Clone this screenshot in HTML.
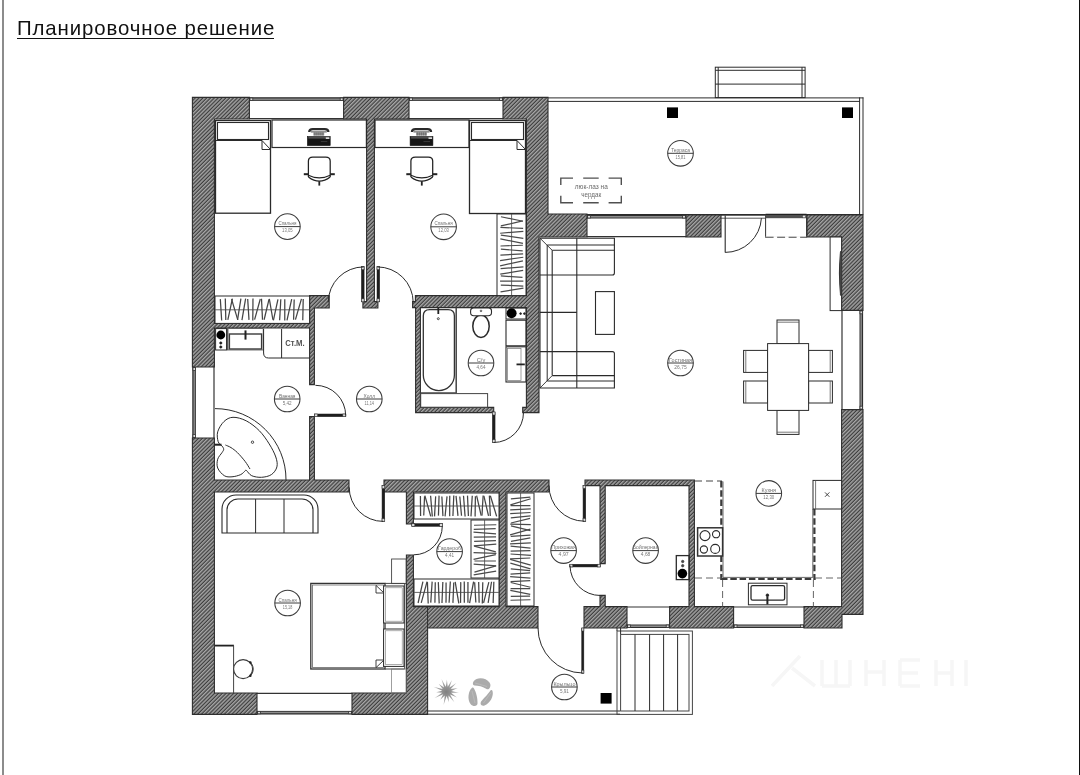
<!DOCTYPE html>
<html><head><meta charset="utf-8"><title>Планировочное решение</title>
<style>html,body{margin:0;padding:0;background:#fff}svg,#t{filter:grayscale(1)}body{width:1080px;height:775px;overflow:hidden;position:relative;font-family:"Liberation Sans",sans-serif}#t{position:absolute;left:17px;top:16px;font-size:20.4px;line-height:24px;color:#111;white-space:nowrap;letter-spacing:0.9px;opacity:0.999}#u{position:absolute;left:17px;top:37.6px;width:257px;height:1.7px;background:#111}svg{position:absolute;left:0;top:0}text{font-family:"Liberation Sans",sans-serif;opacity:0.999}</style></head><body>
<svg width="1080" height="775" viewBox="0 0 1080 775">
<defs><filter id="bl" x="-20%" y="-20%" width="140%" height="140%"><feGaussianBlur stdDeviation="0.55"/></filter><radialGradient id="sg"><stop offset="0" stop-color="#808080"/><stop offset="0.5" stop-color="#9a9a9a"/><stop offset="1" stop-color="#c0c0c0"/></radialGradient><pattern id="h" width="2.7" height="2.7" patternUnits="userSpaceOnUse" patternTransform="rotate(45)"><rect width="2.7" height="2.7" fill="#3e3e3e"/><rect width="1.45" height="2.7" fill="#a6a6a6"/></pattern></defs>
<rect width="1080" height="775" fill="#fff"/>
<rect x="2" y="0" width="2" height="775" fill="#8c8c8c"/>
<rect x="1079" y="0" width="1" height="775" fill="#111"/>
<line x1="548" y1="97.9" x2="863.4" y2="97.9" stroke="#2b2b2b" stroke-width="1" />
<line x1="548" y1="101.4" x2="860" y2="101.4" stroke="#2b2b2b" stroke-width="1" />
<line x1="859.6" y1="97.4" x2="859.6" y2="215" stroke="#2b2b2b" stroke-width="1" />
<line x1="863" y1="97.4" x2="863" y2="215" stroke="#2b2b2b" stroke-width="1" />
<line x1="548" y1="214.5" x2="863" y2="214.5" stroke="#2b2b2b" stroke-width="1" />
<rect x="715.3" y="67.2" width="89.8" height="30.4" fill="none" stroke="#2b2b2b" stroke-width="1" />
<line x1="718.2" y1="67.2" x2="718.2" y2="97.6" stroke="#2b2b2b" stroke-width="1" />
<line x1="802" y1="67.2" x2="802" y2="97.6" stroke="#2b2b2b" stroke-width="1" />
<line x1="715.3" y1="70.3" x2="805.1" y2="70.3" stroke="#2b2b2b" stroke-width="1" />
<line x1="715.3" y1="84.1" x2="805.1" y2="84.1" stroke="#2b2b2b" stroke-width="1" />
<rect x="667" y="107.4" width="11" height="10.6" fill="#000" stroke="none" stroke-width="0" />
<rect x="842" y="107.4" width="11" height="10.6" fill="#000" stroke="none" stroke-width="0" />
<path d="M560.8 185.1 V178.1 H573 M583.2 178.1 H598.7 M608.6 178.1 H621.3 V185.1 M621.3 195.7 V202.7 H608.6 M598.7 202.7 H583.2 M573 202.7 H560.8 V195.7" fill="none" stroke="#505050" stroke-width="1.4" />
<text x="591.3" y="189" font-size="7.6" text-anchor="middle" fill="#6a6a6a" textLength="33" lengthAdjust="spacingAndGlyphs">люк-лаз на</text>
<text x="591.2" y="197.1" font-size="7.6" text-anchor="middle" fill="#6a6a6a" textLength="20" lengthAdjust="spacingAndGlyphs">чердак</text>
<rect x="249.4" y="97.4" width="94.2" height="21.6" fill="#fff" stroke="none" stroke-width="0" />
<rect x="249.4" y="97.7" width="94.2" height="2.8" fill="#8d8d8d" stroke="none" stroke-width="0" />
<line x1="249.4" y1="97.9" x2="343.6" y2="97.9" stroke="#2e2e2e" stroke-width="1.2" />
<line x1="249.4" y1="100.4" x2="343.6" y2="100.4" stroke="#3a3a3a" stroke-width="1" />
<rect x="250" y="98" width="2.8" height="2.4" fill="#ddd" stroke="#333" stroke-width="0.8" />
<rect x="340.2" y="98" width="2.8" height="2.4" fill="#ddd" stroke="#333" stroke-width="0.8" />
<line x1="249.4" y1="118.6" x2="343.6" y2="118.6" stroke="#333" stroke-width="1.2" />
<rect x="409" y="97.4" width="94" height="21.6" fill="#fff" stroke="none" stroke-width="0" />
<rect x="409" y="97.7" width="94" height="2.8" fill="#8d8d8d" stroke="none" stroke-width="0" />
<line x1="409" y1="97.9" x2="503" y2="97.9" stroke="#2e2e2e" stroke-width="1.2" />
<line x1="409" y1="100.4" x2="503" y2="100.4" stroke="#3a3a3a" stroke-width="1" />
<rect x="409.6" y="98" width="2.8" height="2.4" fill="#ddd" stroke="#333" stroke-width="0.8" />
<rect x="499.6" y="98" width="2.8" height="2.4" fill="#ddd" stroke="#333" stroke-width="0.8" />
<line x1="409" y1="118.6" x2="503" y2="118.6" stroke="#333" stroke-width="1.2" />
<rect x="587" y="215" width="99" height="22" fill="#fff" stroke="none" stroke-width="0" />
<rect x="587" y="215.3" width="99" height="2.8" fill="#8d8d8d" stroke="none" stroke-width="0" />
<line x1="587" y1="215.5" x2="686" y2="215.5" stroke="#2e2e2e" stroke-width="1.2" />
<line x1="587" y1="218" x2="686" y2="218" stroke="#3a3a3a" stroke-width="1" />
<rect x="587.6" y="215.6" width="2.8" height="2.4" fill="#ddd" stroke="#333" stroke-width="0.8" />
<rect x="682.6" y="215.6" width="2.8" height="2.4" fill="#ddd" stroke="#333" stroke-width="0.8" />
<line x1="587" y1="236.6" x2="686" y2="236.6" stroke="#333" stroke-width="1.2" />
<rect x="257" y="693" width="95" height="21.4" fill="#fff" stroke="none" stroke-width="0" />
<rect x="257" y="711.3" width="95" height="2.8" fill="#8d8d8d" stroke="none" stroke-width="0" />
<line x1="257" y1="713.9" x2="352" y2="713.9" stroke="#2e2e2e" stroke-width="1.2" />
<line x1="257" y1="711.4" x2="352" y2="711.4" stroke="#3a3a3a" stroke-width="1" />
<rect x="257.6" y="711.4" width="2.8" height="2.4" fill="#ddd" stroke="#333" stroke-width="0.8" />
<rect x="348.6" y="711.4" width="2.8" height="2.4" fill="#ddd" stroke="#333" stroke-width="0.8" />
<line x1="257" y1="693.4" x2="352" y2="693.4" stroke="#333" stroke-width="1.2" />
<rect x="627" y="606.6" width="42.6" height="21.4" fill="#fff" stroke="none" stroke-width="0" />
<rect x="627" y="624.9" width="42.6" height="2.8" fill="#8d8d8d" stroke="none" stroke-width="0" />
<line x1="627" y1="627.5" x2="669.6" y2="627.5" stroke="#2e2e2e" stroke-width="1.2" />
<line x1="627" y1="625" x2="669.6" y2="625" stroke="#3a3a3a" stroke-width="1" />
<rect x="627.6" y="625" width="2.8" height="2.4" fill="#ddd" stroke="#333" stroke-width="0.8" />
<rect x="666.2" y="625" width="2.8" height="2.4" fill="#ddd" stroke="#333" stroke-width="0.8" />
<line x1="627" y1="607" x2="669.6" y2="607" stroke="#333" stroke-width="1.2" />
<rect x="733.6" y="606.6" width="70.4" height="21.4" fill="#fff" stroke="none" stroke-width="0" />
<rect x="733.6" y="624.9" width="70.4" height="2.8" fill="#8d8d8d" stroke="none" stroke-width="0" />
<line x1="733.6" y1="627.5" x2="804" y2="627.5" stroke="#2e2e2e" stroke-width="1.2" />
<line x1="733.6" y1="625" x2="804" y2="625" stroke="#3a3a3a" stroke-width="1" />
<rect x="734.2" y="625" width="2.8" height="2.4" fill="#ddd" stroke="#333" stroke-width="0.8" />
<rect x="800.6" y="625" width="2.8" height="2.4" fill="#ddd" stroke="#333" stroke-width="0.8" />
<line x1="733.6" y1="607" x2="804" y2="607" stroke="#333" stroke-width="1.2" />
<rect x="192.7" y="367" width="2.8" height="71" fill="#8d8d8d" stroke="none" stroke-width="0" />
<line x1="192.9" y1="367" x2="192.9" y2="438" stroke="#2e2e2e" stroke-width="1.2" />
<line x1="195.4" y1="367" x2="195.4" y2="438" stroke="#3a3a3a" stroke-width="1" />
<rect x="193" y="367.6" width="2.4" height="2.8" fill="#ddd" stroke="#333" stroke-width="0.8" />
<rect x="193" y="434.6" width="2.4" height="2.8" fill="#ddd" stroke="#333" stroke-width="0.8" />
<line x1="214" y1="367" x2="214" y2="438" stroke="#333" stroke-width="1.2" />
<rect x="859.9" y="310.4" width="2.8" height="99.2" fill="#8d8d8d" stroke="none" stroke-width="0" />
<line x1="862.5" y1="310.4" x2="862.5" y2="409.6" stroke="#2e2e2e" stroke-width="1.2" />
<line x1="860" y1="310.4" x2="860" y2="409.6" stroke="#3a3a3a" stroke-width="1" />
<rect x="860" y="311" width="2.4" height="2.8" fill="#ddd" stroke="#333" stroke-width="0.8" />
<rect x="860" y="406.2" width="2.4" height="2.8" fill="#ddd" stroke="#333" stroke-width="0.8" />
<line x1="842" y1="310.4" x2="842" y2="409.6" stroke="#333" stroke-width="1.2" />
<line x1="721" y1="215.4" x2="765.6" y2="215.4" stroke="#444" stroke-width="0.9" />
<line x1="721" y1="218.2" x2="765.6" y2="218.2" stroke="#444" stroke-width="0.9" />
<rect x="765.6" y="214.6" width="41" height="22.8" fill="#fff" stroke="#333" stroke-width="1" />
<rect x="765.6" y="214.2" width="41" height="4" fill="#505050" stroke="none" stroke-width="0" />
<line x1="765.6" y1="214.4" x2="806.6" y2="214.4" stroke="#222" stroke-width="1.2" />
<rect x="802.4" y="215.2" width="3.2" height="2.6" fill="#e4e4e4" stroke="#333" stroke-width="0.5" />
<line x1="765.6" y1="237.2" x2="806.6" y2="237.2" stroke="#fff" stroke-width="1.6" />
<line x1="765.6" y1="237.2" x2="806.6" y2="237.2" stroke="#4a4a4a" stroke-width="1.1" stroke-dasharray="8 3.5"/>
<path d="M214.4 328 L309.6 328 L309.6 384.6 L314.4 384.6 L314.4 328 L314.4 323.4 L314.4 308 L329.2 308 L329.2 295.6 L309.6 295.6 L309.6 308 L309.6 323.4 L214.4 323.4 L214.4 119 L249.4 119 L249.4 97.4 L214.4 97.4 L192.4 97.4 L192.4 119 L192.4 367 L214.4 367 Z M362.9 301.6 L362.9 308 L377.9 308 L377.9 301.6 L374.4 301.6 L374.4 119 L409 119 L409 97.4 L343.6 97.4 L343.6 119 L366.6 119 L366.6 301.6 Z M412.6 301.6 L412.6 307.6 L415.4 307.6 L415.6 307.6 L415.6 407.4 L415.6 412.6 L420.4 412.6 L493.7 412.6 L493.7 407.4 L420.4 407.4 L420.4 307.6 L526.4 307.6 L526.4 407.4 L522.7 407.4 L522.7 412.6 L526.4 412.6 L539 412.6 L539 407.4 L539 237 L548 237 L587 237 L587 214 L548 214 L548 119 L548 97.4 L526.4 97.4 L503 97.4 L503 119 L526.4 119 L526.4 214 L526.4 237 L526.4 295.6 L415.4 295.6 L415.4 301.6 Z M214.4 438 L192.4 438 L192.4 693 L192.4 714.4 L214.4 714.4 L257 714.4 L257 693 L214.4 693 L214.4 492 L349 492 L349 480 L314.4 480 L314.4 416.6 L309.6 416.6 L309.6 480 L214.4 480 Z M384 492 L406.4 492 L406.4 524 L413.4 524 L413.4 492 L499 492 L499 606.6 L427.6 606.6 L413.4 606.6 L413.4 555 L406.4 555 L406.4 606.6 L406.4 628 L406.4 693 L352 693 L352 714.4 L406.4 714.4 L427.6 714.4 L427.6 693 L427.6 628 L538 628 L538 606.6 L506 606.6 L506 492 L549 492 L549 480 L384 480 Z M807 215 L807 237 L841.6 237 L841.6 310.4 L863 310.4 L863 237 L863 215 L841.6 215 Z M686 215 L686 237 L721 237 L721 215 Z M605.2 563.6 L605.2 485.6 L689 485.6 L689 606.6 L669.6 606.6 L669.6 628 L733.6 628 L733.6 606.6 L694.4 606.6 L694.4 485.6 L694.4 480 L689 480 L585 480 L585 485.6 L600 485.6 L600 563.6 Z M841.6 409.6 L841.6 606.6 L804 606.6 L804 628 L842 628 L842 614.4 L863 614.4 L863 409.6 Z M627 628 L627 606.6 L605.2 606.6 L605.2 595.4 L600 595.4 L600 606.6 L584 606.6 L584 628 Z " fill="url(#h)" stroke="#2e2e2e" stroke-width="1.1" fill-rule="evenodd" stroke-linejoin="miter"/>
<rect x="215.5" y="120.5" width="55" height="92.7" fill="none" stroke="#2a2a2a" stroke-width="1.3" />
<rect x="217.5" y="122.5" width="51" height="17" fill="none" stroke="#2a2a2a" stroke-width="1.1" />
<line x1="215.6" y1="140.5" x2="262" y2="140.5" stroke="#2a2a2a" stroke-width="1.1" />
<path d="M262 140.5 L262 149.5 L270.5 149.5 Z" fill="#fff" stroke="#2b2b2b" stroke-width="1" />
<rect x="272" y="120" width="94.4" height="27.5" fill="none" stroke="#2a2a2a" stroke-width="1.2" />
<path d="M309.2 132 Q309.2 129.1 312.8 129.1 L324.8 129.1 Q328.4 129.1 328.4 132" fill="none" stroke="#2a2a2a" stroke-width="2.2" />
<line x1="310.8" y1="131.9" x2="326.8" y2="131.9" stroke="#333" stroke-width="0.9" />
<rect x="313.4" y="132.2" width="10.8" height="3.4" fill="#8c8c8c" stroke="none" stroke-width="0" />
<line x1="314.8" y1="132.4" x2="314.8" y2="135.4" stroke="#5a5a5a" stroke-width="0.5" />
<line x1="316.8" y1="132.4" x2="316.8" y2="135.4" stroke="#5a5a5a" stroke-width="0.5" />
<line x1="318.8" y1="132.4" x2="318.8" y2="135.4" stroke="#5a5a5a" stroke-width="0.5" />
<line x1="320.8" y1="132.4" x2="320.8" y2="135.4" stroke="#5a5a5a" stroke-width="0.5" />
<line x1="322.8" y1="132.4" x2="322.8" y2="135.4" stroke="#5a5a5a" stroke-width="0.5" />
<rect x="307.4" y="136.6" width="22.8" height="9" fill="#161616" stroke="#111" stroke-width="0.6" />
<line x1="308.4" y1="137.9" x2="329.2" y2="137.9" stroke="#9a9a9a" stroke-width="0.7" />
<rect x="325.8" y="137.3" width="3.6" height="1.7" fill="#d8d8d8" stroke="none" stroke-width="0" />
<line x1="320.8" y1="141.6" x2="327.3" y2="141.6" stroke="#555" stroke-width="0.6" />
<path d="M308.4 177 L308.4 161 Q308.4 157 312.8 157 L325.8 157 Q330.2 157 330.2 161 L330.2 177" fill="none" stroke="#222" stroke-width="1.25" />
<path d="M308.4 175.2 Q319.3 180.6 330.2 175.2" fill="none" stroke="#222" stroke-width="1.1" />
<path d="M308.4 177 Q319.3 185.4 330.2 177" fill="none" stroke="#222" stroke-width="1.25" />
<line x1="303.8" y1="174.2" x2="308.4" y2="174.2" stroke="#222" stroke-width="2" />
<line x1="330.2" y1="174.2" x2="334.8" y2="174.2" stroke="#222" stroke-width="2" />
<line x1="319.3" y1="181.2" x2="319.3" y2="185.6" stroke="#222" stroke-width="1.8" />
<circle cx="287.4" cy="226.6" r="12.8" fill="#fff" stroke="#3c3c3c" stroke-width="1.05"/>
<line x1="274.6" y1="226.6" x2="300.2" y2="226.6" stroke="#3c3c3c" stroke-width="1" />
<text x="287.4" y="225.1" font-size="5.8" text-anchor="middle" fill="#6e6e6e" textLength="18" lengthAdjust="spacingAndGlyphs">Спальня</text>
<text x="287.4" y="232.2" font-size="5.4" text-anchor="middle" fill="#777" textLength="10.6" lengthAdjust="spacingAndGlyphs">13,05</text>
<rect x="215" y="296" width="94.6" height="27.4" fill="#fff" stroke="#2b2b2b" stroke-width="1" />
<line x1="215" y1="309.8" x2="309.6" y2="309.8" stroke="#555" stroke-width="0.9" />
<line x1="220.3" y1="299.15" x2="221.7" y2="320.43" stroke="#444" stroke-width="1.25" />
<line x1="225.29" y1="298.56" x2="225.82" y2="319.99" stroke="#444" stroke-width="1.25" />
<line x1="232.38" y1="298.74" x2="227.84" y2="319.95" stroke="#444" stroke-width="1.25" />
<line x1="231.55" y1="299.13" x2="237.78" y2="319.92" stroke="#444" stroke-width="1.25" />
<line x1="240.9" y1="298.72" x2="237.54" y2="319.94" stroke="#444" stroke-width="1.25" />
<line x1="245.61" y1="298.62" x2="241.95" y2="320.19" stroke="#444" stroke-width="1.25" />
<line x1="247.69" y1="299.08" x2="248.97" y2="319.86" stroke="#444" stroke-width="1.25" />
<line x1="252.98" y1="298.56" x2="252.79" y2="320.44" stroke="#444" stroke-width="1.25" />
<line x1="260.29" y1="298.97" x2="254.6" y2="319.58" stroke="#444" stroke-width="1.25" />
<line x1="261.5" y1="298.68" x2="262.5" y2="319.72" stroke="#444" stroke-width="1.25" />
<line x1="269" y1="299.38" x2="264.12" y2="319.77" stroke="#444" stroke-width="1.25" />
<line x1="269.32" y1="298.92" x2="272.9" y2="319.74" stroke="#444" stroke-width="1.25" />
<line x1="277.94" y1="299.46" x2="273.39" y2="320.42" stroke="#444" stroke-width="1.25" />
<line x1="280.8" y1="299.32" x2="279.64" y2="320.16" stroke="#444" stroke-width="1.25" />
<line x1="284.77" y1="299.3" x2="284.78" y2="320.43" stroke="#444" stroke-width="1.25" />
<line x1="291.69" y1="299.16" x2="286.97" y2="320.44" stroke="#444" stroke-width="1.25" />
<line x1="294.18" y1="299.49" x2="293.59" y2="319.68" stroke="#444" stroke-width="1.25" />
<line x1="301.46" y1="298.85" x2="295.43" y2="319.56" stroke="#444" stroke-width="1.25" />
<line x1="303.22" y1="298.99" x2="302.78" y2="320.28" stroke="#444" stroke-width="1.25" />
<rect x="469.5" y="120.5" width="56" height="93" fill="none" stroke="#2a2a2a" stroke-width="1.3" />
<rect x="471.5" y="122.5" width="52" height="17" fill="none" stroke="#2a2a2a" stroke-width="1.1" />
<line x1="469.6" y1="140.5" x2="517" y2="140.5" stroke="#2a2a2a" stroke-width="1.1" />
<path d="M517 140.5 L517 149.5 L525.5 149.5 Z" fill="#fff" stroke="#2b2b2b" stroke-width="1" />
<rect x="375" y="120" width="94" height="27.5" fill="none" stroke="#2a2a2a" stroke-width="1.2" />
<path d="M411.9 132 Q411.9 129.1 415.5 129.1 L427.5 129.1 Q431.1 129.1 431.1 132" fill="none" stroke="#2a2a2a" stroke-width="2.2" />
<line x1="413.5" y1="131.9" x2="429.5" y2="131.9" stroke="#333" stroke-width="0.9" />
<rect x="416.1" y="132.2" width="10.8" height="3.4" fill="#8c8c8c" stroke="none" stroke-width="0" />
<line x1="417.5" y1="132.4" x2="417.5" y2="135.4" stroke="#5a5a5a" stroke-width="0.5" />
<line x1="419.5" y1="132.4" x2="419.5" y2="135.4" stroke="#5a5a5a" stroke-width="0.5" />
<line x1="421.5" y1="132.4" x2="421.5" y2="135.4" stroke="#5a5a5a" stroke-width="0.5" />
<line x1="423.5" y1="132.4" x2="423.5" y2="135.4" stroke="#5a5a5a" stroke-width="0.5" />
<line x1="425.5" y1="132.4" x2="425.5" y2="135.4" stroke="#5a5a5a" stroke-width="0.5" />
<rect x="410.1" y="136.6" width="22.8" height="9" fill="#161616" stroke="#111" stroke-width="0.6" />
<line x1="411.1" y1="137.9" x2="431.9" y2="137.9" stroke="#9a9a9a" stroke-width="0.7" />
<rect x="428.5" y="137.3" width="3.6" height="1.7" fill="#d8d8d8" stroke="none" stroke-width="0" />
<line x1="423.5" y1="141.6" x2="430" y2="141.6" stroke="#555" stroke-width="0.6" />
<path d="M410.9 177 L410.9 161 Q410.9 157 415.3 157 L428.3 157 Q432.7 157 432.7 161 L432.7 177" fill="none" stroke="#222" stroke-width="1.25" />
<path d="M410.9 175.2 Q421.8 180.6 432.7 175.2" fill="none" stroke="#222" stroke-width="1.1" />
<path d="M410.9 177 Q421.8 185.4 432.7 177" fill="none" stroke="#222" stroke-width="1.25" />
<line x1="406.3" y1="174.2" x2="410.9" y2="174.2" stroke="#222" stroke-width="2" />
<line x1="432.7" y1="174.2" x2="437.3" y2="174.2" stroke="#222" stroke-width="2" />
<line x1="421.8" y1="181.2" x2="421.8" y2="185.6" stroke="#222" stroke-width="1.8" />
<circle cx="443.6" cy="226.8" r="12.8" fill="#fff" stroke="#3c3c3c" stroke-width="1.05"/>
<line x1="430.8" y1="226.8" x2="456.4" y2="226.8" stroke="#3c3c3c" stroke-width="1" />
<text x="443.6" y="225.3" font-size="5.8" text-anchor="middle" fill="#6e6e6e" textLength="18" lengthAdjust="spacingAndGlyphs">Спальня</text>
<text x="443.6" y="232.4" font-size="5.4" text-anchor="middle" fill="#777" textLength="10.6" lengthAdjust="spacingAndGlyphs">12,03</text>
<rect x="497" y="214" width="29" height="81.6" fill="#fff" stroke="#2b2b2b" stroke-width="1" />
<line x1="511.6" y1="214" x2="511.6" y2="295.6" stroke="#444" stroke-width="0.8" />
<line x1="500.92" y1="216.76" x2="523" y2="221.24" stroke="#4a4a4a" stroke-width="1.2" />
<line x1="500.88" y1="225.92" x2="522.68" y2="220.96" stroke="#4a4a4a" stroke-width="1.2" />
<line x1="500.42" y1="227.43" x2="523.14" y2="228.32" stroke="#4a4a4a" stroke-width="1.2" />
<line x1="500.15" y1="233.23" x2="523.32" y2="231.4" stroke="#4a4a4a" stroke-width="1.2" />
<line x1="500.83" y1="235.13" x2="523.32" y2="238.37" stroke="#4a4a4a" stroke-width="1.2" />
<line x1="500.37" y1="238.92" x2="522.93" y2="243.46" stroke="#4a4a4a" stroke-width="1.2" />
<line x1="500.52" y1="246.01" x2="522.88" y2="245.24" stroke="#4a4a4a" stroke-width="1.2" />
<line x1="500.9" y1="249.17" x2="522.72" y2="250.95" stroke="#4a4a4a" stroke-width="1.2" />
<line x1="500.39" y1="255.1" x2="523.1" y2="253.9" stroke="#4a4a4a" stroke-width="1.2" />
<line x1="500.07" y1="260.64" x2="523.29" y2="257.24" stroke="#4a4a4a" stroke-width="1.2" />
<line x1="500.1" y1="265.94" x2="522.93" y2="260.81" stroke="#4a4a4a" stroke-width="1.2" />
<line x1="500.61" y1="268.71" x2="523.43" y2="266.91" stroke="#4a4a4a" stroke-width="1.2" />
<line x1="500.25" y1="274.09" x2="523.15" y2="270.41" stroke="#4a4a4a" stroke-width="1.2" />
<line x1="500.85" y1="275.93" x2="522.51" y2="277.44" stroke="#4a4a4a" stroke-width="1.2" />
<line x1="500.09" y1="281.09" x2="523.4" y2="281.16" stroke="#4a4a4a" stroke-width="1.2" />
<line x1="500.83" y1="285.09" x2="523.34" y2="286.03" stroke="#4a4a4a" stroke-width="1.2" />
<line x1="500.54" y1="291.83" x2="523.47" y2="288.17" stroke="#4a4a4a" stroke-width="1.2" />
<rect x="361.4" y="266.7" width="2.7" height="35.1" fill="#1e1e1e" stroke="#1e1e1e" stroke-width="0.5" />
<rect x="361.4" y="266.7" width="2.7" height="3" fill="#d9d9d9" stroke="#333" stroke-width="0.6" />
<rect x="361.4" y="298.8" width="2.7" height="3" fill="#d9d9d9" stroke="#333" stroke-width="0.6" />
<rect x="377" y="266.7" width="2.7" height="35.1" fill="#1e1e1e" stroke="#1e1e1e" stroke-width="0.5" />
<rect x="377" y="266.7" width="2.7" height="3" fill="#d9d9d9" stroke="#333" stroke-width="0.6" />
<rect x="377" y="298.8" width="2.7" height="3" fill="#d9d9d9" stroke="#333" stroke-width="0.6" />
<path d="M363.8 266.9 A35.6 35.6 0 0 0 328.2 302.3" fill="none" stroke="#2b2b2b" stroke-width="1" />
<path d="M377.3 266.9 A35.9 35.6 0 0 1 413.2 302.3" fill="none" stroke="#2b2b2b" stroke-width="1" />
<rect x="215.6" y="328.6" width="11.4" height="21.4" fill="none" stroke="#2b2b2b" stroke-width="1" />
<line x1="226.8" y1="328.6" x2="226.8" y2="350" stroke="#333" stroke-width="1.6" />
<circle cx="220.8" cy="335" r="4.4" fill="#000" stroke="none" stroke-width="0"/>
<circle cx="220.8" cy="343" r="1.1" fill="#111" stroke="#111" stroke-width="0.8"/>
<circle cx="220.8" cy="347" r="1.1" fill="#111" stroke="#111" stroke-width="0.8"/>
<rect x="228" y="328.6" width="35.2" height="21.4" fill="none" stroke="#555" stroke-width="0.8" />
<rect x="229.4" y="334" width="32.2" height="15" fill="none" stroke="#3a3a3a" stroke-width="1.4" />
<line x1="245.5" y1="330.4" x2="245.5" y2="339.6" stroke="#222" stroke-width="2" />
<path d="M263.6 329 L263.6 353 Q263.6 358 268.6 358 L309.6 358" fill="none" stroke="#2b2b2b" stroke-width="1" />
<line x1="281.6" y1="329" x2="281.6" y2="358" stroke="#2b2b2b" stroke-width="1" />
<text x="295" y="345.9" font-size="8.3" font-weight="bold" text-anchor="middle" fill="#505050" textLength="19.4" lengthAdjust="spacingAndGlyphs">Ст.М.</text>
<circle cx="287.2" cy="399" r="12.8" fill="#fff" stroke="#3c3c3c" stroke-width="1.05"/>
<line x1="274.4" y1="399" x2="300" y2="399" stroke="#3c3c3c" stroke-width="1" />
<text x="287.2" y="397.5" font-size="5.8" text-anchor="middle" fill="#6e6e6e" textLength="16.5" lengthAdjust="spacingAndGlyphs">Ванная</text>
<text x="287.2" y="404.6" font-size="5.4" text-anchor="middle" fill="#777" textLength="9" lengthAdjust="spacingAndGlyphs">5,42</text>
<circle cx="369.3" cy="399" r="12.8" fill="#fff" stroke="#3c3c3c" stroke-width="1.05"/>
<line x1="356.5" y1="399" x2="382.1" y2="399" stroke="#3c3c3c" stroke-width="1" />
<text x="369.3" y="397.5" font-size="5.8" text-anchor="middle" fill="#6e6e6e" textLength="11.5" lengthAdjust="spacingAndGlyphs">Холл</text>
<text x="369.3" y="404.6" font-size="5.4" text-anchor="middle" fill="#777" textLength="9.5" lengthAdjust="spacingAndGlyphs">11,14</text>
<rect x="314.6" y="414" width="31.2" height="2.7" fill="#1e1e1e" stroke="#1e1e1e" stroke-width="0.5" />
<rect x="314.6" y="414" width="3" height="2.7" fill="#d9d9d9" stroke="#333" stroke-width="0.6" />
<rect x="342.8" y="414" width="3" height="2.7" fill="#d9d9d9" stroke="#333" stroke-width="0.6" />
<path d="M345.7 415.6 A30.3 30.3 0 0 0 315.4 385.3" fill="none" stroke="#2b2b2b" stroke-width="1" />
<path d="M215 408.6 A71 71 0 0 1 286 480" fill="none" stroke="#2b2b2b" stroke-width="1" />
<path d="M233 417.3 C229.3 417.42 226.55 419.08 224 421.5 C221.45 423.92 218.67 428.43 217.7 431.8 C216.73 435.17 217.48 439.33 218.2 441.7 C218.92 444.07 221.08 444.73 222 446 C222.92 447.27 223.7 448.2 223.7 449.3 C223.7 450.4 223 450.95 222 452.6 C221 454.25 218.42 456.63 217.7 459.2 C216.98 461.77 216.6 465.25 217.7 468 C218.8 470.75 221.92 474.23 224.3 475.7 C226.68 477.17 229.27 476.98 232 476.8 C234.73 476.62 238.5 475.6 240.7 474.6 C242.9 473.6 244.25 471.5 245.2 470.8 C246.15 470.1 245.32 469.58 246.4 470.4 C247.48 471.22 249.18 474.55 251.7 475.7 C254.22 476.85 258.22 477.48 261.5 477.3 C264.78 477.12 268.83 476.33 271.4 474.6 C273.97 472.87 276.17 469.83 276.9 466.9 C277.63 463.97 277.08 460.83 275.8 457 C274.52 453.17 271.95 448.28 269.2 443.9 C266.45 439.52 263.13 434.55 259.3 430.7 C255.47 426.85 250.58 423.03 246.2 420.8 C241.82 418.57 236.7 417.18 233 417.3 Z" fill="none" stroke="#2b2b2b" stroke-width="1" />
<path d="M225.4 445 C226.33 445.43 229 446.33 231 447.6 C233 448.87 235.05 450.3 237.4 452.6 C239.75 454.9 243 458.67 245.1 461.4 C247.2 464.13 249.18 467.73 250 469 " fill="none" stroke="#2b2b2b" stroke-width="1" />
<circle cx="252.5" cy="442.2" r="1.2" fill="none" stroke="#333" stroke-width="0.9"/>
<line x1="214.6" y1="444.7" x2="221.5" y2="444.7" stroke="#222" stroke-width="2" />
<path d="M423.3 316 Q423.3 309.7 429.6 309.7 L448.1 309.7 Q454.4 309.7 454.4 316 L454.4 375 A15.55 15.6 0 0 1 423.3 375 Z" fill="none" stroke="#333" stroke-width="1.3" />
<line x1="438.3" y1="308" x2="438.3" y2="314" stroke="#222" stroke-width="1.8" />
<circle cx="438.3" cy="318.7" r="1" fill="none" stroke="#333" stroke-width="0.9"/>
<line x1="456.2" y1="307.6" x2="456.2" y2="392.8" stroke="#444" stroke-width="1.5" />
<line x1="420.4" y1="392.8" x2="457" y2="392.8" stroke="#444" stroke-width="1.1" />
<rect x="420.7" y="393.6" width="66.9" height="13.9" fill="none" stroke="#444" stroke-width="1" />
<ellipse cx="481" cy="326.2" rx="8.2" ry="11.2" fill="none" stroke="#2a2a2a" stroke-width="1.5"/>
<rect x="470.6" y="307.9" width="20.9" height="7.8" fill="#fff" stroke="#2b2b2b" stroke-width="1.1" rx="3.2" />
<circle cx="481" cy="310.9" r="0.8" fill="none" stroke="#333" stroke-width="0.8"/>
<rect x="506" y="308" width="20" height="11" fill="none" stroke="#2b2b2b" stroke-width="1" />
<circle cx="511.6" cy="313.3" r="5" fill="#000" stroke="none" stroke-width="0"/>
<circle cx="520.6" cy="313.6" r="0.9" fill="#222" stroke="#222" stroke-width="0.8"/>
<circle cx="524.4" cy="313.6" r="0.9" fill="#222" stroke="#222" stroke-width="0.8"/>
<rect x="506" y="320.2" width="20" height="25.6" fill="none" stroke="#2b2b2b" stroke-width="1.1" />
<rect x="506" y="346.8" width="20" height="35.2" fill="none" stroke="#2b2b2b" stroke-width="1.1" />
<rect x="507.6" y="348.4" width="13.4" height="32" fill="none" stroke="#777" stroke-width="0.7" />
<line x1="516.5" y1="364.4" x2="524.8" y2="364.4" stroke="#222" stroke-width="1.8" />
<circle cx="481" cy="363" r="12.8" fill="#fff" stroke="#3c3c3c" stroke-width="1.05"/>
<line x1="468.2" y1="363" x2="493.8" y2="363" stroke="#3c3c3c" stroke-width="1" />
<text x="481" y="361.5" font-size="5.8" text-anchor="middle" fill="#6e6e6e" textLength="8.5" lengthAdjust="spacingAndGlyphs">С/у</text>
<text x="481" y="368.6" font-size="5.4" text-anchor="middle" fill="#777" textLength="9" lengthAdjust="spacingAndGlyphs">4,64</text>
<rect x="492.35" y="412" width="2.7" height="30.6" fill="#1e1e1e" stroke="#1e1e1e" stroke-width="0.5" />
<rect x="492.35" y="412" width="2.7" height="3" fill="#d9d9d9" stroke="#333" stroke-width="0.6" />
<rect x="492.35" y="439.6" width="2.7" height="3" fill="#d9d9d9" stroke="#333" stroke-width="0.6" />
<path d="M493.7 442.5 A30 30 0 0 0 523.5 412.4" fill="none" stroke="#2b2b2b" stroke-width="1" />
<path d="M540 238.2 L614.4 238.2 L614.4 273 Q614.4 275 612.4 275 L540 275" fill="none" stroke="#2a2a2a" stroke-width="1.1" />
<path d="M540 238.2 L540 388 L614.4 388 L614.4 353.6 Q614.4 351.6 612.4 351.6 L540 351.6" fill="none" stroke="#2a2a2a" stroke-width="1.1" />
<line x1="547.2" y1="245" x2="614.4" y2="245" stroke="#2a2a2a" stroke-width="1" />
<line x1="552.2" y1="250.3" x2="614.4" y2="250.3" stroke="#2a2a2a" stroke-width="1.1" />
<line x1="547.2" y1="245" x2="547.2" y2="381" stroke="#2a2a2a" stroke-width="1" />
<line x1="552.2" y1="250.3" x2="552.2" y2="375.6" stroke="#2a2a2a" stroke-width="1.1" />
<line x1="552.2" y1="375.6" x2="614.4" y2="375.6" stroke="#2a2a2a" stroke-width="1.1" />
<line x1="547.2" y1="381" x2="614.4" y2="381" stroke="#2a2a2a" stroke-width="1" />
<line x1="540" y1="238.2" x2="552.2" y2="250.3" stroke="#2a2a2a" stroke-width="0.9" />
<line x1="540" y1="388" x2="552.2" y2="375.6" stroke="#2a2a2a" stroke-width="0.9" />
<line x1="576.8" y1="238.2" x2="576.8" y2="388" stroke="#2a2a2a" stroke-width="1.1" />
<line x1="540" y1="312.4" x2="576.8" y2="312.4" stroke="#2a2a2a" stroke-width="1.1" />
<rect x="595.5" y="291.6" width="18.9" height="42.8" fill="none" stroke="#2b2b2b" stroke-width="1.1" />
<circle cx="680.5" cy="363" r="12.8" fill="#fff" stroke="#3c3c3c" stroke-width="1.05"/>
<line x1="667.7" y1="363" x2="693.3" y2="363" stroke="#3c3c3c" stroke-width="1" />
<text x="680.5" y="361.5" font-size="5.8" text-anchor="middle" fill="#6e6e6e" textLength="23" lengthAdjust="spacingAndGlyphs">Гостиная</text>
<text x="680.5" y="368.6" font-size="5.4" text-anchor="middle" fill="#777" textLength="12.5" lengthAdjust="spacingAndGlyphs">26,75</text>
<line x1="725.2" y1="215.4" x2="725.2" y2="252.4" stroke="#2b2b2b" stroke-width="1.1" />
<path d="M725.2 252.4 A36.3 36.3 0 0 0 761.4 218.2" fill="none" stroke="#2b2b2b" stroke-width="1" />
<rect x="830.1" y="237" width="11.5" height="73.6" fill="#fff" stroke="#2b2b2b" stroke-width="1" />
<path d="M841 251.2 Q838.4 273 841 295.7" fill="none" stroke="#333" stroke-width="1.6" />
<line x1="840.6" y1="252" x2="840.6" y2="295" stroke="#444" stroke-width="1.4" />
<rect x="777" y="320" width="22" height="23.6" fill="#fff" stroke="#2b2b2b" stroke-width="1" />
<line x1="777" y1="322.2" x2="799" y2="322.2" stroke="#555" stroke-width="0.8" />
<rect x="777" y="410.4" width="22" height="24" fill="#fff" stroke="#2b2b2b" stroke-width="1" />
<line x1="777" y1="432.2" x2="799" y2="432.2" stroke="#555" stroke-width="0.8" />
<rect x="743.6" y="350.4" width="24" height="22" fill="#fff" stroke="#2b2b2b" stroke-width="1" />
<line x1="745.8" y1="350.4" x2="745.8" y2="372.4" stroke="#555" stroke-width="0.8" />
<rect x="743.6" y="381" width="24" height="22" fill="#fff" stroke="#2b2b2b" stroke-width="1" />
<line x1="745.8" y1="381" x2="745.8" y2="403" stroke="#555" stroke-width="0.8" />
<rect x="808.6" y="350.4" width="23.8" height="22" fill="#fff" stroke="#2b2b2b" stroke-width="1" />
<line x1="830.2" y1="350.4" x2="830.2" y2="372.4" stroke="#555" stroke-width="0.8" />
<rect x="808.6" y="381" width="23.8" height="22" fill="#fff" stroke="#2b2b2b" stroke-width="1" />
<line x1="830.2" y1="381" x2="830.2" y2="403" stroke="#555" stroke-width="0.8" />
<rect x="767.6" y="343.6" width="41" height="66.8" fill="#fff" stroke="#2b2b2b" stroke-width="1" />
<circle cx="768.8" cy="493.4" r="12.8" fill="#fff" stroke="#3c3c3c" stroke-width="1.05"/>
<line x1="756" y1="493.4" x2="781.6" y2="493.4" stroke="#3c3c3c" stroke-width="1" />
<text x="768.8" y="491.9" font-size="5.8" text-anchor="middle" fill="#6e6e6e" textLength="14.5" lengthAdjust="spacingAndGlyphs">Кухня</text>
<text x="768.8" y="499" font-size="5.4" text-anchor="middle" fill="#777" textLength="11" lengthAdjust="spacingAndGlyphs">12,30</text>
<line x1="695" y1="481" x2="722" y2="481" stroke="#444" stroke-width="1" stroke-dasharray="7 4"/>
<line x1="721.3" y1="481" x2="721.3" y2="580" stroke="#3a3a3a" stroke-width="2.2" stroke-dasharray="6.5 2.8"/>
<line x1="723" y1="481.5" x2="723" y2="577.4" stroke="#444" stroke-width="0.8" />
<line x1="721" y1="579" x2="815.4" y2="579" stroke="#3a3a3a" stroke-width="2.2" stroke-dasharray="6.5 2.8"/>
<line x1="723" y1="577.4" x2="812.8" y2="577.4" stroke="#444" stroke-width="0.8" />
<line x1="814.4" y1="509" x2="814.4" y2="580" stroke="#3a3a3a" stroke-width="2.2" stroke-dasharray="6.5 2.8"/>
<line x1="812.8" y1="509" x2="812.8" y2="577.4" stroke="#444" stroke-width="0.8" />
<line x1="695" y1="578" x2="722" y2="578" stroke="#555" stroke-width="0.9" stroke-dasharray="7 4"/>
<line x1="815" y1="578" x2="841.6" y2="578" stroke="#555" stroke-width="0.9" stroke-dasharray="7 4"/>
<line x1="722.6" y1="580" x2="722.6" y2="606.6" stroke="#555" stroke-width="0.9" stroke-dasharray="7 4"/>
<line x1="813.4" y1="580" x2="813.4" y2="606.6" stroke="#555" stroke-width="0.9" stroke-dasharray="7 4"/>
<rect x="697.6" y="527.8" width="25" height="28.2" fill="#fff" stroke="#333" stroke-width="1.5" />
<circle cx="705" cy="535.6" r="5" fill="none" stroke="#2b2b2b" stroke-width="1.1"/>
<circle cx="716.1" cy="534.2" r="3.6" fill="none" stroke="#2b2b2b" stroke-width="1.1"/>
<circle cx="703.9" cy="549.5" r="3.6" fill="none" stroke="#2b2b2b" stroke-width="1.1"/>
<circle cx="715.2" cy="548.9" r="4.5" fill="none" stroke="#2b2b2b" stroke-width="1.1"/>
<rect x="748.4" y="583.2" width="38.6" height="21.6" fill="none" stroke="#2b2b2b" stroke-width="1" />
<rect x="751" y="585.6" width="33.6" height="14.6" fill="none" stroke="#2b2b2b" stroke-width="1.3" rx="1.6" />
<line x1="767.4" y1="596.4" x2="767.4" y2="604.4" stroke="#222" stroke-width="2" />
<circle cx="767.4" cy="595.2" r="1.3" fill="#222" stroke="#222" stroke-width="0.8"/>
<rect x="813" y="480.4" width="28.6" height="28.6" fill="#fff" stroke="#2b2b2b" stroke-width="1" />
<line x1="815.6" y1="480.4" x2="815.6" y2="509" stroke="#555" stroke-width="0.8" />
<path d="M825 492.4 L829.4 496.8 M829.4 492.4 L825 496.8" fill="none" stroke="#333" stroke-width="0.9" />
<circle cx="645.6" cy="550.6" r="12.8" fill="#fff" stroke="#3c3c3c" stroke-width="1.05"/>
<line x1="632.8" y1="550.6" x2="658.4" y2="550.6" stroke="#3c3c3c" stroke-width="1" />
<text x="645.6" y="549.1" font-size="5.8" text-anchor="middle" fill="#6e6e6e" textLength="25.5" lengthAdjust="spacingAndGlyphs">Бойлерная</text>
<text x="645.6" y="556.2" font-size="5.4" text-anchor="middle" fill="#777" textLength="9.5" lengthAdjust="spacingAndGlyphs">4,68</text>
<rect x="676.3" y="555.6" width="12.9" height="24" fill="none" stroke="#2b2b2b" stroke-width="1.3" />
<circle cx="682.4" cy="573.6" r="4.8" fill="#000" stroke="none" stroke-width="0"/>
<circle cx="682.7" cy="561.5" r="1.2" fill="#444" stroke="#444" stroke-width="0.8"/>
<circle cx="682.7" cy="565.7" r="1.2" fill="#444" stroke="#444" stroke-width="0.8"/>
<rect x="569.8" y="564.25" width="30.7" height="2.7" fill="#1e1e1e" stroke="#1e1e1e" stroke-width="0.5" />
<rect x="569.8" y="564.25" width="3" height="2.7" fill="#d9d9d9" stroke="#333" stroke-width="0.6" />
<rect x="597.5" y="564.25" width="3" height="2.7" fill="#d9d9d9" stroke="#333" stroke-width="0.6" />
<path d="M570 565.6 A30.4 30.2 0 0 0 600.4 595.5" fill="none" stroke="#2b2b2b" stroke-width="1" />
<circle cx="563.6" cy="550.6" r="12.8" fill="#fff" stroke="#3c3c3c" stroke-width="1.05"/>
<line x1="550.8" y1="550.6" x2="576.4" y2="550.6" stroke="#3c3c3c" stroke-width="1" />
<text x="563.6" y="549.1" font-size="5.8" text-anchor="middle" fill="#6e6e6e" textLength="24.5" lengthAdjust="spacingAndGlyphs">Прихожая</text>
<text x="563.6" y="556.2" font-size="5.4" text-anchor="middle" fill="#777" textLength="10" lengthAdjust="spacingAndGlyphs">4,97</text>
<rect x="583.05" y="485.4" width="2.7" height="35.9" fill="#1e1e1e" stroke="#1e1e1e" stroke-width="0.5" />
<rect x="583.05" y="485.4" width="2.7" height="3" fill="#d9d9d9" stroke="#333" stroke-width="0.6" />
<rect x="583.05" y="518.3" width="2.7" height="3" fill="#d9d9d9" stroke="#333" stroke-width="0.6" />
<path d="M549 485.6 A35.4 35.6 0 0 0 584.3 521.2" fill="none" stroke="#2b2b2b" stroke-width="1" />
<rect x="507" y="493" width="27" height="113" fill="#fff" stroke="#2b2b2b" stroke-width="1" />
<line x1="520.6" y1="493" x2="520.6" y2="606" stroke="#444" stroke-width="0.8" />
<line x1="510.86" y1="498.96" x2="530.3" y2="497.04" stroke="#4a4a4a" stroke-width="1.2" />
<line x1="510.36" y1="504.83" x2="530.78" y2="498.72" stroke="#4a4a4a" stroke-width="1.2" />
<line x1="510.64" y1="505.56" x2="530.39" y2="505.55" stroke="#4a4a4a" stroke-width="1.2" />
<line x1="510.2" y1="509.85" x2="530.76" y2="508.82" stroke="#4a4a4a" stroke-width="1.2" />
<line x1="510.2" y1="513.72" x2="530.51" y2="512.5" stroke="#4a4a4a" stroke-width="1.2" />
<line x1="510.79" y1="517.87" x2="530.53" y2="515.91" stroke="#4a4a4a" stroke-width="1.2" />
<line x1="510.94" y1="522.98" x2="530.01" y2="518.35" stroke="#4a4a4a" stroke-width="1.2" />
<line x1="510.22" y1="524.17" x2="530.77" y2="524.72" stroke="#4a4a4a" stroke-width="1.2" />
<line x1="510.99" y1="525.85" x2="530.39" y2="530.59" stroke="#4a4a4a" stroke-width="1.2" />
<line x1="510.08" y1="534.88" x2="530.34" y2="529.12" stroke="#4a4a4a" stroke-width="1.2" />
<line x1="510.75" y1="536.34" x2="530.52" y2="535.21" stroke="#4a4a4a" stroke-width="1.2" />
<line x1="510.95" y1="541.29" x2="530.28" y2="537.82" stroke="#4a4a4a" stroke-width="1.2" />
<line x1="510.08" y1="543.82" x2="530.84" y2="542.85" stroke="#4a4a4a" stroke-width="1.2" />
<line x1="510.59" y1="546.17" x2="530.53" y2="548.06" stroke="#4a4a4a" stroke-width="1.2" />
<line x1="510.6" y1="551.11" x2="530.53" y2="550.67" stroke="#4a4a4a" stroke-width="1.2" />
<line x1="510.55" y1="553.98" x2="530.98" y2="555.35" stroke="#4a4a4a" stroke-width="1.2" />
<line x1="510.1" y1="558.9" x2="530.25" y2="557.99" stroke="#4a4a4a" stroke-width="1.2" />
<line x1="510.21" y1="559.3" x2="530.75" y2="565.14" stroke="#4a4a4a" stroke-width="1.2" />
<line x1="510.33" y1="563.18" x2="530.46" y2="568.82" stroke="#4a4a4a" stroke-width="1.2" />
<line x1="510.74" y1="568.9" x2="530.1" y2="570.66" stroke="#4a4a4a" stroke-width="1.2" />
<line x1="510.52" y1="574.19" x2="530.17" y2="572.93" stroke="#4a4a4a" stroke-width="1.2" />
<line x1="510.15" y1="576.59" x2="530.49" y2="578.07" stroke="#4a4a4a" stroke-width="1.2" />
<line x1="510.61" y1="581.66" x2="530.22" y2="580.56" stroke="#4a4a4a" stroke-width="1.2" />
<line x1="510.73" y1="582.53" x2="530.44" y2="587.25" stroke="#4a4a4a" stroke-width="1.2" />
<line x1="510.56" y1="588.7" x2="530.22" y2="588.63" stroke="#4a4a4a" stroke-width="1.2" />
<line x1="510.28" y1="590.45" x2="530.23" y2="594.44" stroke="#4a4a4a" stroke-width="1.2" />
<line x1="510.76" y1="596.35" x2="530.09" y2="596.1" stroke="#4a4a4a" stroke-width="1.2" />
<line x1="510.51" y1="600.23" x2="530.49" y2="599.77" stroke="#4a4a4a" stroke-width="1.2" />
<rect x="414" y="493" width="85" height="26" fill="#fff" stroke="#2b2b2b" stroke-width="1" />
<line x1="414" y1="506" x2="499" y2="506" stroke="#555" stroke-width="0.9" />
<line x1="420.4" y1="496.03" x2="420.6" y2="516.02" stroke="#444" stroke-width="1.25" />
<line x1="424.55" y1="496.38" x2="423.75" y2="515.56" stroke="#444" stroke-width="1.25" />
<line x1="424.86" y1="495.64" x2="430.74" y2="516.38" stroke="#444" stroke-width="1.25" />
<line x1="430.6" y1="495.74" x2="432.3" y2="516.43" stroke="#444" stroke-width="1.25" />
<line x1="435.67" y1="496.4" x2="434.53" y2="516.35" stroke="#444" stroke-width="1.25" />
<line x1="439.07" y1="495.64" x2="438.43" y2="515.62" stroke="#444" stroke-width="1.25" />
<line x1="441.84" y1="496.45" x2="442.96" y2="516.1" stroke="#444" stroke-width="1.25" />
<line x1="447.03" y1="496.33" x2="445.07" y2="516.34" stroke="#444" stroke-width="1.25" />
<line x1="449.73" y1="495.84" x2="449.67" y2="516.3" stroke="#444" stroke-width="1.25" />
<line x1="453.79" y1="495.52" x2="452.91" y2="515.95" stroke="#444" stroke-width="1.25" />
<line x1="456.04" y1="495.83" x2="457.96" y2="515.88" stroke="#444" stroke-width="1.25" />
<line x1="459.78" y1="496.49" x2="461.52" y2="515.71" stroke="#444" stroke-width="1.25" />
<line x1="463.51" y1="495.77" x2="465.09" y2="516.46" stroke="#444" stroke-width="1.25" />
<line x1="467.49" y1="495.63" x2="468.41" y2="516.08" stroke="#444" stroke-width="1.25" />
<line x1="472.24" y1="495.76" x2="470.96" y2="516.35" stroke="#444" stroke-width="1.25" />
<line x1="475.39" y1="496.2" x2="475.11" y2="516.41" stroke="#444" stroke-width="1.25" />
<line x1="476.62" y1="495.57" x2="481.18" y2="515.56" stroke="#444" stroke-width="1.25" />
<line x1="483.15" y1="495.58" x2="481.95" y2="515.64" stroke="#444" stroke-width="1.25" />
<line x1="483.87" y1="495.84" x2="488.53" y2="515.95" stroke="#444" stroke-width="1.25" />
<line x1="489.39" y1="495.63" x2="490.31" y2="515.97" stroke="#444" stroke-width="1.25" />
<line x1="490.35" y1="495.76" x2="496.65" y2="516.32" stroke="#444" stroke-width="1.25" />
<rect x="471" y="520" width="28" height="58" fill="#fff" stroke="#2b2b2b" stroke-width="1" />
<line x1="484.6" y1="520" x2="484.6" y2="578" stroke="#444" stroke-width="0.8" />
<line x1="474.03" y1="525.26" x2="496.29" y2="524.74" stroke="#4a4a4a" stroke-width="1.2" />
<line x1="473.77" y1="529.34" x2="495.7" y2="528.66" stroke="#4a4a4a" stroke-width="1.2" />
<line x1="473.52" y1="532.07" x2="495.99" y2="533.93" stroke="#4a4a4a" stroke-width="1.2" />
<line x1="473.75" y1="537.03" x2="496.05" y2="536.97" stroke="#4a4a4a" stroke-width="1.2" />
<line x1="474.16" y1="541.3" x2="495.95" y2="540.7" stroke="#4a4a4a" stroke-width="1.2" />
<line x1="473.81" y1="545.94" x2="496.28" y2="544.06" stroke="#4a4a4a" stroke-width="1.2" />
<line x1="474.21" y1="546.07" x2="495.86" y2="551.93" stroke="#4a4a4a" stroke-width="1.2" />
<line x1="473.55" y1="552.7" x2="496.37" y2="553.3" stroke="#4a4a4a" stroke-width="1.2" />
<line x1="473.56" y1="559.29" x2="495.83" y2="554.71" stroke="#4a4a4a" stroke-width="1.2" />
<line x1="474.47" y1="561.01" x2="495.9" y2="560.99" stroke="#4a4a4a" stroke-width="1.2" />
<line x1="473.69" y1="564.09" x2="496.23" y2="565.91" stroke="#4a4a4a" stroke-width="1.2" />
<line x1="474.47" y1="572.14" x2="495.95" y2="565.86" stroke="#4a4a4a" stroke-width="1.2" />
<line x1="473.68" y1="574.95" x2="496.16" y2="571.05" stroke="#4a4a4a" stroke-width="1.2" />
<rect x="414" y="579" width="85" height="27" fill="#fff" stroke="#2b2b2b" stroke-width="1" />
<line x1="414" y1="592.4" x2="499" y2="592.4" stroke="#555" stroke-width="0.9" />
<line x1="422.9" y1="581.7" x2="418.1" y2="603" stroke="#444" stroke-width="1.25" />
<line x1="427.06" y1="581.64" x2="421.24" y2="602.91" stroke="#444" stroke-width="1.25" />
<line x1="427.4" y1="582.13" x2="428.2" y2="603.42" stroke="#444" stroke-width="1.25" />
<line x1="432.16" y1="581.66" x2="430.74" y2="602.61" stroke="#444" stroke-width="1.25" />
<line x1="435.29" y1="582.26" x2="434.91" y2="602.78" stroke="#444" stroke-width="1.25" />
<line x1="438.32" y1="582.12" x2="439.18" y2="603.36" stroke="#444" stroke-width="1.25" />
<line x1="442.83" y1="582.01" x2="441.97" y2="603.07" stroke="#444" stroke-width="1.25" />
<line x1="446.06" y1="582.41" x2="446.04" y2="602.75" stroke="#444" stroke-width="1.25" />
<line x1="450.33" y1="581.52" x2="449.07" y2="602.81" stroke="#444" stroke-width="1.25" />
<line x1="453.77" y1="582.46" x2="452.93" y2="602.86" stroke="#444" stroke-width="1.25" />
<line x1="455.19" y1="581.86" x2="458.81" y2="603.4" stroke="#444" stroke-width="1.25" />
<line x1="460.77" y1="582.13" x2="460.53" y2="602.87" stroke="#444" stroke-width="1.25" />
<line x1="464.28" y1="581.5" x2="464.32" y2="602.7" stroke="#444" stroke-width="1.25" />
<line x1="467.96" y1="582.04" x2="467.94" y2="602.84" stroke="#444" stroke-width="1.25" />
<line x1="473.6" y1="581.57" x2="469.6" y2="603.23" stroke="#444" stroke-width="1.25" />
<line x1="474.66" y1="582.24" x2="475.84" y2="602.52" stroke="#444" stroke-width="1.25" />
<line x1="478.67" y1="581.98" x2="479.13" y2="602.82" stroke="#444" stroke-width="1.25" />
<line x1="482.78" y1="582.14" x2="482.32" y2="603.42" stroke="#444" stroke-width="1.25" />
<line x1="488.84" y1="582.19" x2="483.56" y2="602.88" stroke="#444" stroke-width="1.25" />
<line x1="491.55" y1="581.77" x2="488.15" y2="602.83" stroke="#444" stroke-width="1.25" />
<line x1="493.85" y1="581.79" x2="493.15" y2="602.98" stroke="#444" stroke-width="1.25" />
<circle cx="449.6" cy="551.6" r="12.8" fill="#fff" stroke="#3c3c3c" stroke-width="1.05"/>
<line x1="436.8" y1="551.6" x2="462.4" y2="551.6" stroke="#3c3c3c" stroke-width="1" />
<text x="449.6" y="550.1" font-size="5.8" text-anchor="middle" fill="#6e6e6e" textLength="23" lengthAdjust="spacingAndGlyphs">Гардероб</text>
<text x="449.6" y="557.2" font-size="5.4" text-anchor="middle" fill="#777" textLength="9" lengthAdjust="spacingAndGlyphs">4,41</text>
<rect x="411.8" y="523.65" width="30.8" height="2.7" fill="#1e1e1e" stroke="#1e1e1e" stroke-width="0.5" />
<rect x="411.8" y="523.65" width="3" height="2.7" fill="#d9d9d9" stroke="#333" stroke-width="0.6" />
<rect x="439.6" y="523.65" width="3" height="2.7" fill="#d9d9d9" stroke="#333" stroke-width="0.6" />
<path d="M442.3 526 A28.5 28.8 0 0 1 413.9 554.8" fill="none" stroke="#2b2b2b" stroke-width="1" />
<circle cx="287.6" cy="603" r="12.8" fill="#fff" stroke="#3c3c3c" stroke-width="1.05"/>
<line x1="274.8" y1="603" x2="300.4" y2="603" stroke="#3c3c3c" stroke-width="1" />
<text x="287.6" y="601.5" font-size="5.8" text-anchor="middle" fill="#6e6e6e" textLength="18" lengthAdjust="spacingAndGlyphs">Спальня</text>
<text x="287.6" y="608.6" font-size="5.4" text-anchor="middle" fill="#777" textLength="9.5" lengthAdjust="spacingAndGlyphs">15,18</text>
<rect x="382.05" y="485.6" width="2.7" height="36" fill="#1e1e1e" stroke="#1e1e1e" stroke-width="0.5" />
<rect x="382.05" y="485.6" width="2.7" height="3" fill="#d9d9d9" stroke="#333" stroke-width="0.6" />
<rect x="382.05" y="518.6" width="2.7" height="3" fill="#d9d9d9" stroke="#333" stroke-width="0.6" />
<path d="M349.2 487.4 A34 34 0 0 0 383.2 521.4" fill="none" stroke="#2b2b2b" stroke-width="1" />
<path d="M222 533 L222 509 A14 14 0 0 1 236 495 L304 495 A14 14 0 0 1 318 509 L318 533 Z" fill="none" stroke="#2b2b2b" stroke-width="1.1" />
<path d="M227 533 L227 510 A11 11 0 0 1 238 499 L302 499 A11 11 0 0 1 313 510 L313 533" fill="none" stroke="#2b2b2b" stroke-width="1.1" />
<line x1="255.6" y1="499" x2="255.6" y2="533" stroke="#2b2b2b" stroke-width="1" />
<line x1="284" y1="499" x2="284" y2="533" stroke="#2b2b2b" stroke-width="1" />
<rect x="310.8" y="583.4" width="74.2" height="85.6" fill="#fff" stroke="#333" stroke-width="1.3" />
<rect x="312.4" y="585" width="71" height="82.4" fill="none" stroke="#666" stroke-width="0.8" />
<path d="M385 583.4 H404.7 V669 H385" fill="none" stroke="#444" stroke-width="1" />
<path d="M376 585.4 L376 593 L384 593 Z" fill="#fff" stroke="#2b2b2b" stroke-width="0.9" />
<path d="M376 667.6 L376 660 L384 660 Z" fill="#fff" stroke="#2b2b2b" stroke-width="0.9" />
<rect x="383.6" y="586" width="20.4" height="37" fill="#fff" stroke="#2b2b2b" stroke-width="1" />
<rect x="385.4" y="587.8" width="16.8" height="33.4" fill="none" stroke="#777" stroke-width="0.6" />
<rect x="383.6" y="629" width="20.4" height="37.4" fill="#fff" stroke="#2b2b2b" stroke-width="1" />
<rect x="385.4" y="630.8" width="16.8" height="33.8" fill="none" stroke="#777" stroke-width="0.6" />
<rect x="391.6" y="559" width="14.6" height="24.6" fill="none" stroke="#444" stroke-width="0.9" />
<rect x="391.6" y="669" width="14.6" height="24" fill="none" stroke="#777" stroke-width="0.7" />
<line x1="215" y1="645.6" x2="233.9" y2="645.6" stroke="#222" stroke-width="1.8" />
<line x1="233.6" y1="645.6" x2="233.6" y2="693" stroke="#444" stroke-width="1" />
<path d="M249.6 661.6 A12.2 12.2 0 0 1 249.6 676.6 A9.5 9.5 0 0 0 249.6 661.6 Z" fill="#777" stroke="#333" stroke-width="0.8" />
<circle cx="243.1" cy="669.1" r="9.5" fill="#fff" stroke="#3a3a3a" stroke-width="1.1"/>
<circle cx="250.4" cy="662.4" r="1.2" fill="#222" stroke="none" stroke-width="0"/>
<circle cx="250.4" cy="675.8" r="1.2" fill="#222" stroke="none" stroke-width="0"/>
<line x1="428" y1="711" x2="620" y2="711" stroke="#2b2b2b" stroke-width="1" />
<line x1="428" y1="714.2" x2="620" y2="714.2" stroke="#2b2b2b" stroke-width="1" />
<circle cx="564.4" cy="687" r="12.8" fill="#fff" stroke="#3c3c3c" stroke-width="1.05"/>
<line x1="551.6" y1="687" x2="577.2" y2="687" stroke="#3c3c3c" stroke-width="1" />
<text x="564.4" y="685.5" font-size="5.8" text-anchor="middle" fill="#6e6e6e" textLength="22" lengthAdjust="spacingAndGlyphs">Крыльцо</text>
<text x="564.4" y="692.6" font-size="5.4" text-anchor="middle" fill="#777" textLength="9" lengthAdjust="spacingAndGlyphs">5,91</text>
<rect x="600.6" y="693" width="11" height="10.6" fill="#000" stroke="none" stroke-width="0" />
<rect x="581.75" y="628" width="2.1" height="45.2" fill="#1e1e1e" stroke="#1e1e1e" stroke-width="0.5" />
<rect x="581.75" y="628" width="2.1" height="3" fill="#d9d9d9" stroke="#333" stroke-width="0.6" />
<rect x="581.75" y="670.2" width="2.1" height="3" fill="#d9d9d9" stroke="#333" stroke-width="0.6" />
<path d="M538 628 A45 45 0 0 0 582.6 673" fill="none" stroke="#2b2b2b" stroke-width="1" />
<rect x="617" y="631" width="75.4" height="83.4" fill="none" stroke="#444" stroke-width="1" />
<rect x="620.6" y="634.4" width="68.4" height="76.6" fill="none" stroke="#444" stroke-width="1" />
<line x1="617" y1="628" x2="617" y2="631" stroke="#2b2b2b" stroke-width="1" />
<line x1="620.6" y1="628" x2="620.6" y2="634" stroke="#2b2b2b" stroke-width="1" />
<line x1="635" y1="634.4" x2="635" y2="711" stroke="#2b2b2b" stroke-width="1" />
<line x1="649.6" y1="634.4" x2="649.6" y2="711" stroke="#2b2b2b" stroke-width="1" />
<line x1="663.6" y1="634.4" x2="663.6" y2="711" stroke="#2b2b2b" stroke-width="1" />
<line x1="677.6" y1="634.4" x2="677.6" y2="711" stroke="#2b2b2b" stroke-width="1" />
<polygon points="459.01,692.78 451.05,692.79 456.95,697.43 450.07,694.43 454.35,702.17 448.51,695.53 448.85,702.23 446.63,695.9 443.59,704.9 444.77,695.47 440.3,699.83 443.23,694.33 434.3,698.21 442.3,692.65 436.09,692.25 442.13,690.75 433.47,686.78 442.75,688.94 438.57,683.75 444.05,687.54 441.46,679.02 445.81,686.79 446.88,679.43 447.73,686.82 451.95,679.98 449.46,687.62 456.33,682.89 450.72,689.06 457.76,687.89 451.28,690.89" fill="url(#sg)" filter="url(#bl)"/>
<g filter="url(#bl)" fill="#a2a2a2" opacity="0.9"><path d="M473.5 681.5 C477 676.5 486 677.5 489.5 682.5 C492 686 489 690.5 486.5 689 C483 686.5 478 685.5 474.5 685.5 C472.5 685 472.5 683 473.5 681.5 Z"/><path d="M471.8 688 C468.5 691 467 699 470.5 704 C473 707 477.5 706.5 477.5 703.5 C477.8 698 476 692 474 688.5 C473.4 687.4 472.6 687.4 471.8 688 Z"/><path d="M492.5 691 C494 696 490 703.5 484.5 705.5 C481 706.5 479.5 703.5 481.5 701 C485 697 488.5 693.5 490.5 690.5 C491.2 689.6 492.2 690 492.5 691 Z"/></g>
<g stroke="#cfcfcf" stroke-width="0.5" opacity="0.8" fill="none"><path d="M475 683 l12 3.5 M472 691 l3 12 M483.5 703 l7.5 -10.5"/></g>
<g fill="none" stroke="#f6f6f6" stroke-width="3.5" filter="url(#bl)"><path d="M772 686 L800 656 M792 668 L815 686"/><path d="M822 660 V686 M836 660 V686 M850 660 V686 M822 686 H850"/><path d="M866 660 V686 M866 672 H884 M884 660 V686"/><path d="M900 660 V686 M900 660 H920 M900 673 H918 M900 686 H920"/><path d="M936 660 V686 M952 660 V686 M936 673 H952 M966 660 V686"/></g>
<line x1="427.6" y1="606.6" x2="427.6" y2="628" stroke="#2e2e2e" stroke-width="1" />
<circle cx="680.5" cy="153.3" r="12.8" fill="#fff" stroke="#3c3c3c" stroke-width="1.05"/>
<line x1="667.7" y1="153.3" x2="693.3" y2="153.3" stroke="#3c3c3c" stroke-width="1" />
<text x="680.5" y="151.8" font-size="5.8" text-anchor="middle" fill="#6e6e6e" textLength="18.7" lengthAdjust="spacingAndGlyphs">Терраса</text>
<text x="680.5" y="158.9" font-size="5.4" text-anchor="middle" fill="#777" textLength="9.8" lengthAdjust="spacingAndGlyphs">15,81</text>
</svg>
<div id="t">Планировочное решение</div><div id="u"></div>
</body></html>
